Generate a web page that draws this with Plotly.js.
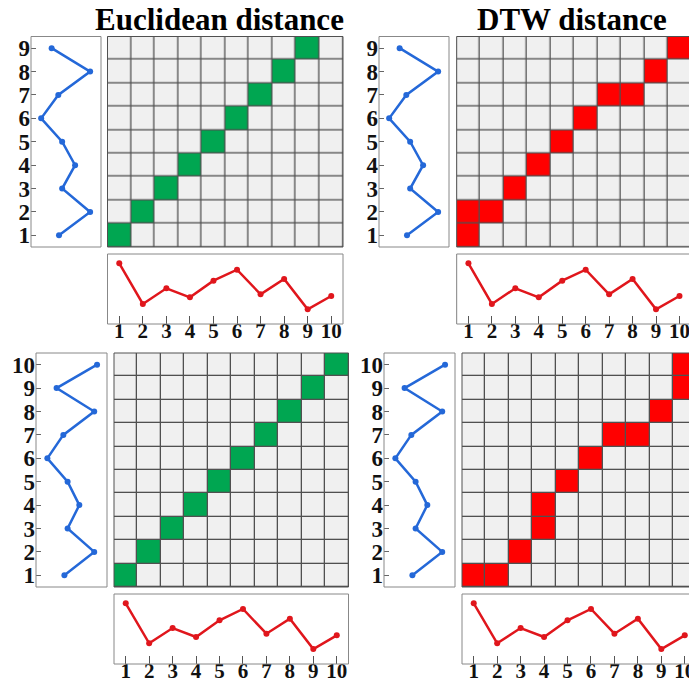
<!DOCTYPE html>
<html>
<head>
<meta charset="utf-8">
<script src="https://cdn.plot.ly/plotly-3.0.1.min.js"></script>
<style>html,body{margin:0;padding:0;background:#fff;}#chart{width:689px;height:684px;}</style>
</head>
<body>
<div id="chart"></div>
<script>
// ---------------- data ----------------
const colLabels = [1, 2, 3, 4, 5, 6, 7, 8, 9, 10];
const rowLabelsTop = [1, 2, 3, 4, 5, 6, 7, 8, 9];
const rowLabelsBottom = [1, 2, 3, 4, 5, 6, 7, 8, 9, 10];

// blue (vertical) series, one value per row (0-10 scale)
const blueTop = [4.0, 8.45, 4.45, 6.3, 4.45, 1.45, 3.9, 8.45, 2.95];
const blueBottom = [4.0, 8.2, 4.45, 6.1, 4.45, 1.6, 3.85, 8.2, 2.9, 8.6];

// red (horizontal) series, one value per column (0-10 scale)
const redTop = [8.67, 2.86, 5.1, 3.81, 6.19, 7.76, 4.24, 6.43, 2.1, 4.0];
const redBottom = [8.67, 2.96, 5.14, 3.86, 6.24, 7.86, 4.33, 6.47, 2.14, 4.1];

// alignment paths as [column, row] cells
const euclidTopPath = [[1,1],[2,2],[3,3],[4,4],[5,5],[6,6],[7,7],[8,8],[9,9]];
const dtwTopPath = [[1,1],[1,2],[2,2],[3,3],[4,4],[5,5],[6,6],[7,7],[8,7],[9,8],[10,9]];
const euclidBottomPath = [[1,1],[2,2],[3,3],[4,4],[5,5],[6,6],[7,7],[8,8],[9,9],[10,10]];
const dtwBottomPath = [[1,1],[2,1],[3,2],[4,3],[4,4],[5,5],[6,6],[7,7],[8,7],[9,8],[10,9],[10,10]];

const titles = ["Euclidean distance", "DTW distance"];

// ---------------- layout helpers ----------------
const W = 689, H = 684;
const GREEN = '#00a651', RED = '#ff0000', CELL = '#f0f0f0';
const BLUE_LINE = '#2468d8', RED_LINE = '#e0161c';
const SERIF = 'Liberation Serif, Times New Roman, serif';
const blueTickFont = {family: SERIF, size: 23, weight: 'bold', color: '#111'};
const redTickFont = {family: SERIF, size: 21, weight: 'bold', color: '#111'};

const layout = {
  width: W, height: H,
  margin: {l: 0, r: 0, t: 0, b: 0},
  paper_bgcolor: '#ffffff',
  plot_bgcolor: '#505050',
  showlegend: false,
  shapes: [],
  annotations: []
};
const data = [];
let axN = 0;

function xd(a, b) { return [a / W, Math.min(b / W, 1)]; }
function yd(top, bottom) { return [1 - bottom / H, 1 - top / H]; }
function newAxes() { axN += 1; return axN; }
function axName(p, n) { return n === 1 ? p : p + n; }

function frame(n, color, extendRight) {
  layout.shapes.push({
    type: 'rect', xref: axName('x', n) + ' domain', yref: axName('y', n) + ' domain',
    x0: 0, x1: extendRight ? 1.2 : 1, y0: 0, y1: 1,
    line: {color: color, width: 1}, fillcolor: 'rgba(0,0,0,0)', layer: 'above'
  });
}
function whiteBg(n) {
  layout.shapes.push({
    type: 'rect', xref: axName('x', n) + ' domain', yref: axName('y', n) + ' domain',
    x0: 0, x1: 1, y0: 0, y1: 1, line: {width: 0}, fillcolor: '#ffffff', layer: 'below'
  });
}

// panel: geometry in pixels
function panel(g, rows, blue, red, path, fill, title) {
  const nRows = rows.length;
  const cellW = (g.gridR - g.gridL) / 10;
  const xMax = 0.5 + (Math.min(g.gridR, W) - g.gridL) / cellW;
  const clipped = g.gridR > W;

  // blue panel
  const nb = newAxes();
  layout[axName('xaxis', nb)] = {domain: xd(g.blueL, g.blueR), range: [0, 10], visible: false,
    anchor: axName('y', nb), fixedrange: true};
  layout[axName('yaxis', nb)] = {domain: yd(g.top, g.bottom), range: [0.5, nRows + 0.5],
    anchor: axName('x', nb), tickvals: rows, ticktext: rows.map(String), ticks: 'inside',
    ticklen: 5, tickcolor: '#666', tickwidth: 1, showgrid: false, zeroline: false,
    showline: false, tickfont: blueTickFont, ticklabelstandoff: 0, fixedrange: true};
  whiteBg(nb); frame(nb, '#888', false);
  data.push({type: 'scatter', mode: 'lines+markers', x: blue, y: rows,
    xaxis: axName('x', nb), yaxis: axName('y', nb),
    line: {color: BLUE_LINE, width: 2.5}, marker: {color: BLUE_LINE, size: 6}, hoverinfo: 'skip'});

  // grid panel
  const ng = newAxes();
  layout[axName('xaxis', ng)] = {domain: xd(g.gridL, g.gridR), range: [0.5, xMax], visible: false,
    anchor: axName('y', ng), fixedrange: true};
  layout[axName('yaxis', ng)] = {domain: yd(g.top, g.bottom), range: [0.5, nRows + 0.5], visible: false,
    anchor: axName('x', ng), fixedrange: true};
  const z = rows.map(r => colLabels.map(c => path.some(p => p[0] === c && p[1] === r) ? 1 : 0));
  data.push({type: 'heatmap', x: colLabels, y: rows, z: z, zmin: 0, zmax: 1,
    colorscale: [[0, CELL], [1, fill]], showscale: false, xgap: 1.3, ygap: 1.3,
    xaxis: axName('x', ng), yaxis: axName('y', ng), hoverinfo: 'skip'});
  frame(ng, '#505050', clipped);

  // red panel
  const nr = newAxes();
  layout[axName('xaxis', nr)] = {domain: xd(g.gridL, g.gridR), range: [0.5, xMax],
    anchor: axName('y', nr), tickvals: colLabels, ticktext: colLabels.map(String), ticks: 'inside',
    ticklen: 8, tickcolor: '#555', tickwidth: 1, showgrid: false, zeroline: false, showline: false,
    tickfont: redTickFont, ticklabelstandoff: -8, ticklabeloverflow: 'allow', fixedrange: true};
  layout[axName('yaxis', nr)] = {domain: yd(g.redT, g.redB), range: [0, 10], visible: false,
    anchor: axName('x', nr), fixedrange: true};
  whiteBg(nr); frame(nr, '#888', clipped);
  data.push({type: 'scatter', mode: 'lines+markers', x: colLabels, y: red,
    xaxis: axName('x', nr), yaxis: axName('y', nr),
    line: {color: RED_LINE, width: 2.5}, marker: {color: RED_LINE, size: 6}, hoverinfo: 'skip'});

  if (title) {
    layout.annotations.push({text: title, xref: 'paper', yref: 'paper', x: g.titleX / W, y: 1 - 20 / H,
      xanchor: 'center', yanchor: 'middle', showarrow: false,
      font: {family: SERIF, size: 31, weight: 'bold', color: '#000'}});
  }
}

panel({blueL: 31, blueR: 101, gridL: 107.5, gridR: 343, top: 36.5, bottom: 247, redT: 254, redB: 324, titleX: 219},
  rowLabelsTop, blueTop, redTop, euclidTopPath, GREEN, titles[0]);
panel({blueL: 379, blueR: 449, gridL: 456.7, gridR: 691.2, top: 36.5, bottom: 247, redT: 254, redB: 324, titleX: 572},
  rowLabelsTop, blueTop, redTop, dtwTopPath, RED, titles[1]);
panel({blueL: 36, blueR: 107, gridL: 114, gridR: 348.5, top: 353, bottom: 587, redT: 594, redB: 664},
  rowLabelsBottom, blueBottom, redBottom, euclidBottomPath, GREEN, null);
panel({blueL: 384, blueR: 455, gridL: 462, gridR: 696.5, top: 353, bottom: 587, redT: 594, redB: 664},
  rowLabelsBottom, blueBottom, redBottom, dtwBottomPath, RED, null);

Plotly.newPlot('chart', data, layout, {displayModeBar: false, staticPlot: true});
</script>
</body>
</html>
